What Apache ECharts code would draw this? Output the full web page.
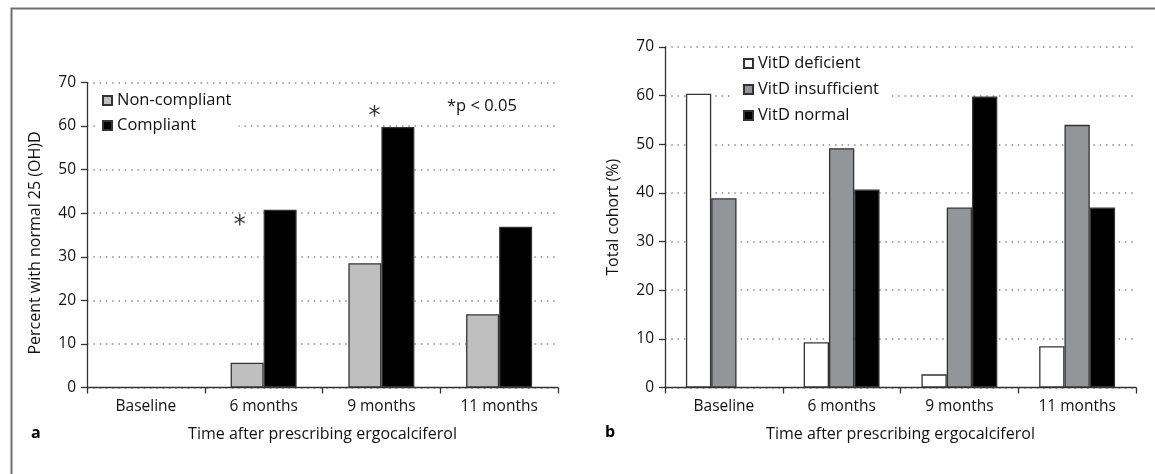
<!DOCTYPE html>
<html>
<head>
<meta charset="utf-8">
<script src="https://cdn.jsdelivr.net/npm/echarts@6/dist/echarts.min.js"></script>
<style type="text/css">
html, body {margin:0; padding:0; background:#fff;}
#chart {width:1155px; height:474px;}
</style>
</head>
<body>
<div id="chart"></div>
<script type="text/javascript">
// data
var categories = ['Baseline', '6 months', '9 months', '11 months'];
var nonCompliant = [0, 5.7, 28.5, 16.8];
var compliant = [0, 40.8, 59.8, 36.9];
var vitdDeficient = [60.4, 9.3, 2.7, 8.5];
var vitdInsufficient = [38.9, 49.2, 37.0, 54.0];
var vitdNormal = [0, 40.7, 59.8, 37.0];
// significance stars (panel a): category, height, x shift
var sigMarks = [['6 months', 37.7, -24], ['9 months', 62.9, -7]];

var FONT = 'Open Sans';
var TXT = '#111';
var gridLine = {show: true, lineStyle: {color: '#8c8c8c', width: 1.5, type: [1.5, 4.8]}};

function yAxis(idx, name, pad) {
    return {
        type: 'value', gridIndex: idx, min: 0, max: 70, interval: 10,
        name: name, nameLocation: 'middle', nameGap: 44,
        nameTextStyle: {fontFamily: FONT, fontSize: 16, color: TXT, padding: pad},
        axisLine: {show: true, lineStyle: {color: '#333', width: 1.3}},
        axisTick: {show: true, length: 6, lineStyle: {color: '#333', width: 1.3}},
        axisLabel: {margin: 11, fontFamily: FONT, fontSize: 15.5, color: TXT},
        splitLine: gridLine
    };
}
function xAxis(idx) {
    return {
        type: 'category', gridIndex: idx, data: categories,
        name: 'Time after prescribing ergocalciferol', nameLocation: 'middle', nameGap: 39,
        nameTextStyle: {fontFamily: FONT, fontSize: 16, color: TXT},
        axisLine: {lineStyle: {color: '#333', width: 1.3}},
        axisTick: {show: true, length: 6, lineStyle: {color: '#333', width: 1.3}},
        axisLabel: {margin: 11, fontFamily: FONT, fontSize: 15.5, color: TXT},
        splitLine: {show: false}
    };
}
function bar(name, idx, data, color, w) {
    return {
        name: name, type: 'bar', xAxisIndex: idx, yAxisIndex: idx,
        // empty bars get no outline so nothing shows on the axis
        data: data.map(function (v) {
            return v === 0 ? {value: v, itemStyle: {borderWidth: 0}} : v;
        }),
        barWidth: w, barGap: '0%',
        itemStyle: {color: color, borderColor: '#333', borderWidth: 1.3}
    };
}
var legendText = {fontFamily: FONT, fontSize: 16.5, color: TXT};

var myChart = echarts.init(document.getElementById('chart'));
var option = {
    animation: false,
    backgroundColor: '#fff',
    grid: [
        {left: 87, top: 82.5, width: 471, height: 305},
        {left: 665, top: 47, width: 471, height: 340.5}
    ],
    xAxis: [xAxis(0), xAxis(1)],
    yAxis: [yAxis(0, 'Percent with normal 25 (OH)D', [0, 16, 0, 0]), yAxis(1, 'Total cohort (%)', 0)],
    legend: [
        {
            data: ['Non-compliant', 'Compliant'], orient: 'vertical',
            left: 99, top: 88, padding: [4, 7, 4, 3], itemGap: 8,
            itemWidth: 9, itemHeight: 9, icon: 'rect', backgroundColor: '#fff',
            textStyle: legendText
        },
        {
            data: ['VitD deficient', 'VitD insufficient', 'VitD normal'], orient: 'vertical',
            left: 730, top: 49, padding: [6, 11, 6, 13], itemGap: 9,
            itemWidth: 9, itemHeight: 9, icon: 'rect', backgroundColor: '#fff',
            textStyle: legendText
        }
    ],
    graphic: [
        {type: 'rect', left: 9, top: 6, z: 100, silent: true,
         shape: {width: 1200, height: 520}, style: {fill: 'none', stroke: '#6e6e6e', lineWidth: 2}},
        {type: 'text', left: 447, top: 98,
         style: {text: '*p < 0.05', fontFamily: FONT, fontSize: 16.5, fill: TXT}},
        {type: 'text', left: 31, top: 425,
         style: {text: 'a', fontFamily: FONT, fontSize: 16, fontWeight: 'bold', fill: '#000'}},
        {type: 'text', left: 605, top: 424,
         style: {text: 'b', fontFamily: FONT, fontSize: 16, fontWeight: 'bold', fill: '#000'}}
    ],
    series: [
        bar('Non-compliant', 0, nonCompliant, '#bfbfbf', 33),
        bar('Compliant', 0, compliant, '#000', 33),
        bar('VitD deficient', 1, vitdDeficient, '#fff', 25.3),
        bar('VitD insufficient', 1, vitdInsufficient, '#939598', 25.3),
        bar('VitD normal', 1, vitdNormal, '#000', 25.3),
        {
            name: 'sig', type: 'scatter', xAxisIndex: 0, yAxisIndex: 0,
            symbolSize: 0, silent: true,
            data: sigMarks.map(function (m) {
                return {value: [m[0], m[1]], label: {offset: [m[2], 3]}};
            }),
            label: {show: true, position: 'inside', formatter: '*',
                    fontFamily: 'DejaVu Sans', fontSize: 24, color: '#000'}
        }
    ]
};
myChart.setOption(option);
</script>
</body>
</html>
